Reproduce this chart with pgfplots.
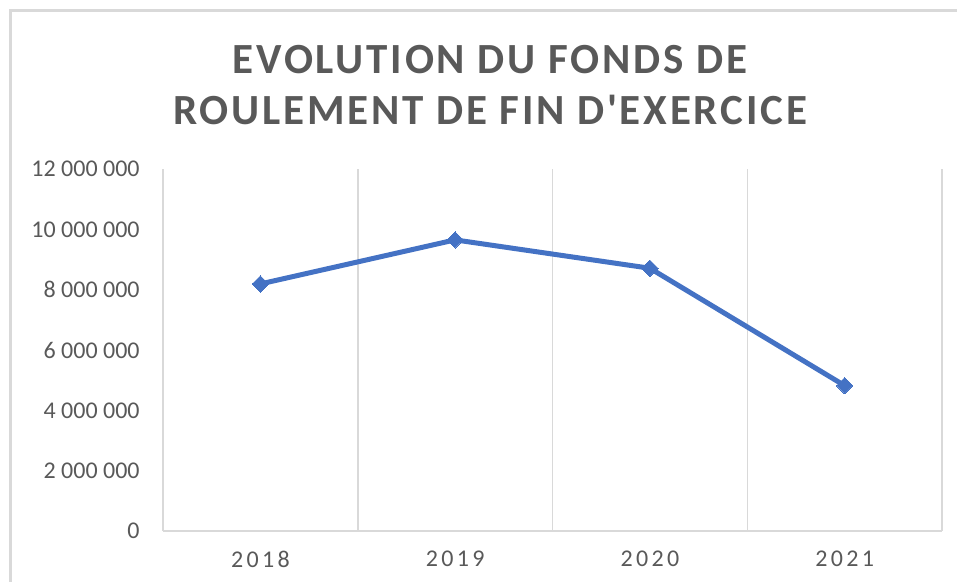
\documentclass[border=0pt]{standalone}
\usepackage{pgfplots}
\pgfplotsset{compat=1.18}
\usepackage{fontspec}
\setmainfont{Carlito}
\newfontfamily\titlefont[LetterSpace=6.5]{Carlito}
\newfontfamily\spacedfont[LetterSpace=14]{Carlito}
\definecolor{txtgray}{HTML}{595959}
\definecolor{gridgray}{HTML}{D9D9D9}
\definecolor{serblue}{HTML}{4472C4}
\begin{document}
\begin{tikzpicture}
\useasboundingbox (0,0) rectangle (478.5pt,291pt);
\draw[gridgray, line width=1.5pt] (5pt,0) -- (5pt,285.5pt) -- (478.5pt,285.5pt);
\node[text=txtgray, font=\titlefont\bfseries\fontsize{21.5}{26}\selectfont] at (245pt,261pt) {EVOLUTION DU FONDS DE};
\node[text=txtgray, font=\titlefont\bfseries\fontsize{21.5}{26}\selectfont] at (245pt,236pt) {ROULEMENT DE FIN D'EXERCICE};
\begin{axis}[
  at={(81.5pt,25.5pt)}, anchor=origin,
  scale only axis, width=389.5pt, height=181pt,
  xmin=0.5, xmax=4.5, ymin=0, ymax=12000000,
  axis line style={draw=none},
  xtick={1,2,3,4}, xticklabels={2018,2019,2020,2021},
  minor xtick={0.5,1.5,2.5,3.5,4.5},
  xminorgrids=true,
  minor grid style={gridgray, line width=0.75pt},
  major tick length=0pt, minor tick length=0pt,
  ytick={0,2000000,4000000,6000000,8000000,10000000,12000000},
  yticklabels={0,2 000 000,4 000 000,6 000 000,8 000 000,10 000 000,12 000 000},
  scaled y ticks=false,
  extra y ticks={0}, extra y tick labels={},
  extra y tick style={grid=major, major grid style={gridgray, line width=0.75pt}},
  yticklabel style={font=\fontsize{12}{14}\selectfont, text=txtgray, inner sep=0pt, anchor=east, xshift=-11.5pt},
  xticklabel style={font=\spacedfont\fontsize{12}{14}\selectfont, text=txtgray, inner sep=0pt, anchor=north, yshift=-10pt},
  clip=false,
]
\addplot[serblue, line width=2.5pt, mark=square*, mark size=2.9pt, mark options={rotate=45, fill=serblue, draw=serblue, line width=0pt}]
coordinates {(1,8190000) (2,9650000) (3,8710000) (4,4820000)};
\end{axis}
\end{tikzpicture}
\end{document}
